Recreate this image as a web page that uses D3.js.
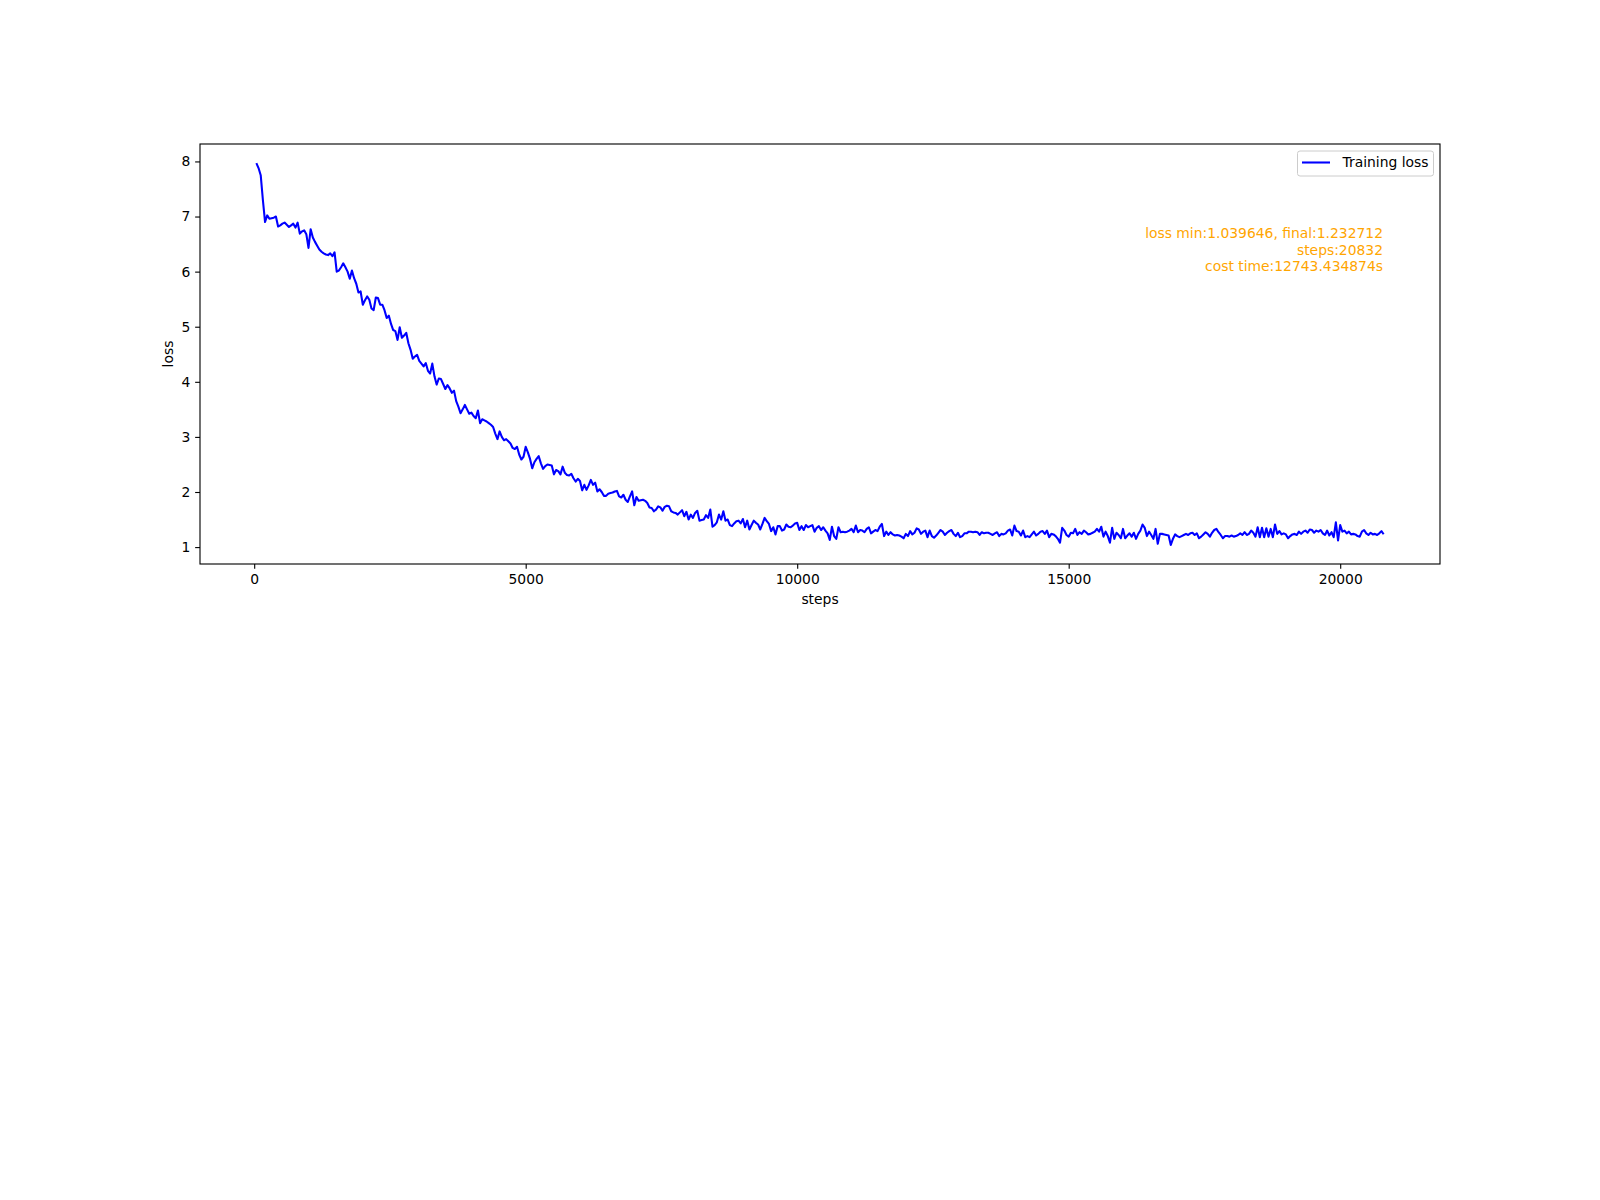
<!DOCTYPE html>
<html><head><meta charset="utf-8">
<script src="https://cdn.jsdelivr.net/npm/d3@7"></script>
<style>body{margin:0;background:#fff} svg{display:block}</style>
</head><body><svg id="chart" width="1600" height="1200"></svg>
<script>
// Training loss, logged every 40 steps (rows of 10 values = 400 steps each)
const lossValues = [
  7.97, 7.88, 7.75, 7.30, 6.90, 7.02, 6.96, 6.97, 6.98, 7.00,
  6.82, 6.84, 6.87, 6.89, 6.85, 6.81, 6.84, 6.87, 6.80, 6.89,
  6.69, 6.73, 6.75, 6.68, 6.43, 6.77, 6.62, 6.54, 6.47, 6.40,
  6.36, 6.33, 6.31, 6.30, 6.33, 6.28, 6.35, 6.00, 6.02, 6.08,
  6.15, 6.08, 6.00, 5.87, 6.02, 5.88, 5.78, 5.62, 5.64, 5.40,
  5.48, 5.55, 5.49, 5.33, 5.30, 5.53, 5.52, 5.40, 5.40, 5.30,
  5.16, 5.20, 5.05, 4.94, 4.92, 4.76, 4.99, 4.80, 4.84, 4.89,
  4.70, 4.58, 4.42, 4.46, 4.49, 4.38, 4.33, 4.28, 4.34, 4.20,
  4.15, 4.33, 4.10, 3.95, 4.06, 4.05, 3.96, 3.87, 3.94, 3.88,
  3.80, 3.84, 3.65, 3.55, 3.43, 3.50, 3.58, 3.50, 3.42, 3.44,
  3.38, 3.34, 3.48, 3.25, 3.32, 3.30, 3.28, 3.25, 3.22, 3.18,
  3.06, 2.96, 3.10, 3.00, 2.94, 2.96, 2.92, 2.88, 2.80, 2.78,
  2.82, 2.68, 2.59, 2.64, 2.82, 2.72, 2.60, 2.43, 2.54, 2.60,
  2.65, 2.52, 2.42, 2.47, 2.50, 2.49, 2.48, 2.32, 2.40, 2.38,
  2.32, 2.46, 2.35, 2.31, 2.30, 2.33, 2.25, 2.19, 2.24, 2.20,
  2.03, 2.13, 2.04, 2.12, 2.22, 2.13, 2.17, 2.01, 2.05, 2.00,
  1.93, 1.93, 1.97, 1.98, 1.99, 2.01, 2.02, 1.92, 1.90, 1.95,
  1.86, 1.82, 1.92, 2.01, 1.76, 1.91, 1.84, 1.85, 1.86, 1.84,
  1.80, 1.72, 1.71, 1.65, 1.68, 1.74, 1.72, 1.66, 1.73, 1.75,
  1.74, 1.65, 1.63, 1.62, 1.59, 1.63, 1.67, 1.56, 1.64, 1.50,
  1.59, 1.53, 1.62, 1.66, 1.48, 1.49, 1.50, 1.58, 1.53, 1.68,
  1.37, 1.40, 1.45, 1.59, 1.50, 1.65, 1.48, 1.50, 1.40, 1.38,
  1.43, 1.47, 1.48, 1.43, 1.51, 1.36, 1.48, 1.32, 1.40, 1.48,
  1.44, 1.41, 1.32, 1.42, 1.53, 1.47, 1.42, 1.29, 1.36, 1.23,
  1.38, 1.38, 1.30, 1.32, 1.41, 1.37, 1.36, 1.39, 1.43, 1.44,
  1.31, 1.38, 1.31, 1.40, 1.36, 1.38, 1.40, 1.28, 1.35, 1.38,
  1.31, 1.36, 1.30, 1.25, 1.13, 1.37, 1.20, 1.15, 1.36, 1.27,
  1.28, 1.27, 1.28, 1.30, 1.33, 1.27, 1.39, 1.27, 1.31, 1.30,
  1.27, 1.33, 1.36, 1.25, 1.28, 1.31, 1.29, 1.37, 1.42, 1.20,
  1.28, 1.22, 1.27, 1.23, 1.21, 1.22, 1.21, 1.19, 1.16, 1.24,
  1.20, 1.29, 1.23, 1.26, 1.34, 1.32, 1.24, 1.28, 1.30, 1.18,
  1.30, 1.20, 1.17, 1.21, 1.26, 1.31, 1.28, 1.22, 1.26, 1.29,
  1.31, 1.24, 1.20, 1.26, 1.18, 1.20, 1.25, 1.25, 1.28, 1.28,
  1.27, 1.28, 1.27, 1.22, 1.27, 1.25, 1.26, 1.26, 1.24, 1.22,
  1.25, 1.27, 1.20, 1.24, 1.23, 1.25, 1.30, 1.32, 1.21, 1.39,
  1.29, 1.28, 1.21, 1.30, 1.18, 1.20, 1.18, 1.23, 1.28, 1.21,
  1.24, 1.28, 1.29, 1.24, 1.30, 1.18, 1.24, 1.23, 1.20, 1.15,
  1.08, 1.35, 1.30, 1.22, 1.19, 1.26, 1.25, 1.33, 1.22, 1.27,
  1.24, 1.30, 1.27, 1.23, 1.24, 1.26, 1.28, 1.33, 1.28, 1.37,
  1.19, 1.28, 1.20, 1.08, 1.35, 1.15, 1.26, 1.22, 1.16, 1.33,
  1.16, 1.21, 1.25, 1.19, 1.26, 1.15, 1.24, 1.30, 1.41, 1.35,
  1.20, 1.28, 1.22, 1.15, 1.33, 1.06, 1.24, 1.24, 1.23, 1.22,
  1.21, 1.039646, 1.15, 1.23, 1.20, 1.18, 1.20, 1.22, 1.24, 1.22,
  1.25, 1.26, 1.22, 1.25, 1.16, 1.19, 1.23, 1.27, 1.24, 1.19,
  1.26, 1.31, 1.33, 1.27, 1.22, 1.16, 1.20, 1.20, 1.19, 1.21,
  1.19, 1.20, 1.22, 1.25, 1.22, 1.27, 1.22, 1.24, 1.30, 1.26,
  1.19, 1.36, 1.18, 1.35, 1.18, 1.34, 1.19, 1.33, 1.18, 1.41,
  1.24, 1.29, 1.23, 1.25, 1.23, 1.16, 1.20, 1.23, 1.24, 1.22,
  1.28, 1.24, 1.28, 1.30, 1.26, 1.32, 1.31, 1.26, 1.30, 1.28,
  1.31, 1.25, 1.22, 1.30, 1.21, 1.27, 1.18, 1.45, 1.12, 1.40,
  1.28, 1.30, 1.25, 1.28, 1.23, 1.24, 1.23, 1.20, 1.19, 1.28,
  1.31, 1.25, 1.22, 1.26, 1.23, 1.24, 1.22, 1.25, 1.29, 1.232712
];
const stepInterval = 40;
const steps = lossValues.map((_, i) => (i + 1) * stepInterval);
const xTicks = [0, 5000, 10000, 15000, 20000];
const yTicks = [1, 2, 3, 4, 5, 6, 7, 8];
const seriesName = "Training loss";
const annotationLines = ["loss min:1.039646, final:1.232712", "steps:20832", "cost time:12743.434874s"];
const xLabel = "steps";
const yLabel = "loss";

(function () {
const FONT = "'DejaVu Sans', sans-serif";
const FS = 13.89;
const W = 1600, H = 1200;
const pLeft = 200, pRight = 1440, pTop = 144, pBottom = 564;

const svg = d3.select('#chart');
svg.append('rect').attr('width', W).attr('height', H).attr('fill', '#fff');

const xExt = d3.extent(steps), yExt = d3.extent(lossValues);
const xs = xExt[1] - xExt[0], ys = yExt[1] - yExt[0];
const x = d3.scaleLinear().domain([xExt[0] - 0.05 * xs, xExt[1] + 0.05 * xs]).range([pLeft, pRight]);
const y = d3.scaleLinear().domain([yExt[0] - 0.05 * ys, yExt[1] + 0.05 * ys]).range([pBottom, pTop]);

// data line
const line = d3.line().x((d, i) => x(steps[i])).y(d => y(d));
svg.append('path').datum(lossValues)
  .attr('d', line).attr('fill', 'none')
  .attr('stroke', '#0000ff').attr('stroke-width', 2.08)
  .attr('stroke-linejoin', 'round').attr('stroke-linecap', 'butt');

// axes
const gx = svg.append('g').attr('transform', `translate(0,${pBottom})`)
  .call(d3.axisBottom(x).tickValues(xTicks).tickFormat(d3.format('d'))
    .tickSizeInner(4.86).tickSizeOuter(0).tickPadding(5.5));
gx.attr('font-family', FONT).attr('font-size', FS);
gx.select('.domain').remove();
gx.selectAll('.tick line').attr('stroke', '#000').attr('stroke-width', 1.11);
gx.selectAll('.tick text').attr('fill', '#000');

const gy = svg.append('g').attr('transform', `translate(${pLeft},0)`)
  .call(d3.axisLeft(y).tickValues(yTicks).tickFormat(d3.format('d'))
    .tickSizeInner(4.86).tickSizeOuter(0).tickPadding(4.86));
gy.attr('font-family', FONT).attr('font-size', FS);
gy.select('.domain').remove();
gy.selectAll('.tick line').attr('stroke', '#000').attr('stroke-width', 1.11);
gy.selectAll('.tick text').attr('fill', '#000');

// frame
svg.append('rect').attr('x', pLeft).attr('y', pTop)
  .attr('width', pRight - pLeft).attr('height', pBottom - pTop)
  .attr('fill', 'none').attr('stroke', '#000').attr('stroke-width', 1.11);

// axis labels
svg.append('text').attr('x', (pLeft + pRight) / 2).attr('y', 604)
  .attr('text-anchor', 'middle').attr('font-family', FONT).attr('font-size', FS)
  .attr('fill', '#000').text(xLabel);
svg.append('text').attr('transform', `translate(173,${(pTop + pBottom) / 2}) rotate(-90)`)
  .attr('text-anchor', 'middle').attr('font-family', FONT).attr('font-size', FS)
  .attr('fill', '#000').text(yLabel);

// legend
const lg = svg.append('g');
lg.append('rect').attr('x', 1297.5).attr('y', 151).attr('width', 136).attr('height', 25)
  .attr('rx', 2.5).attr('fill', '#fff').attr('fill-opacity', 0.8)
  .attr('stroke', '#cccccc').attr('stroke-width', 1);
lg.append('line').attr('x1', 1302).attr('x2', 1330).attr('y1', 162.5).attr('y2', 162.5)
  .attr('stroke', '#0000ff').attr('stroke-width', 2.08);
lg.append('text').attr('x', 1342.5).attr('y', 167.3)
  .attr('font-family', FONT).attr('font-size', FS).attr('fill', '#000').text(seriesName);

// annotation
const ann = svg.append('g');
const annBase = [238.3, 254.6, 271];
annotationLines.forEach((t, i) => {
  ann.append('text').attr('x', 1383).attr('y', annBase[i])
    .attr('text-anchor', 'end').attr('font-family', FONT).attr('font-size', FS)
    .attr('fill', '#ffa500').text(t);
});
})();
</script>
</body></html>
